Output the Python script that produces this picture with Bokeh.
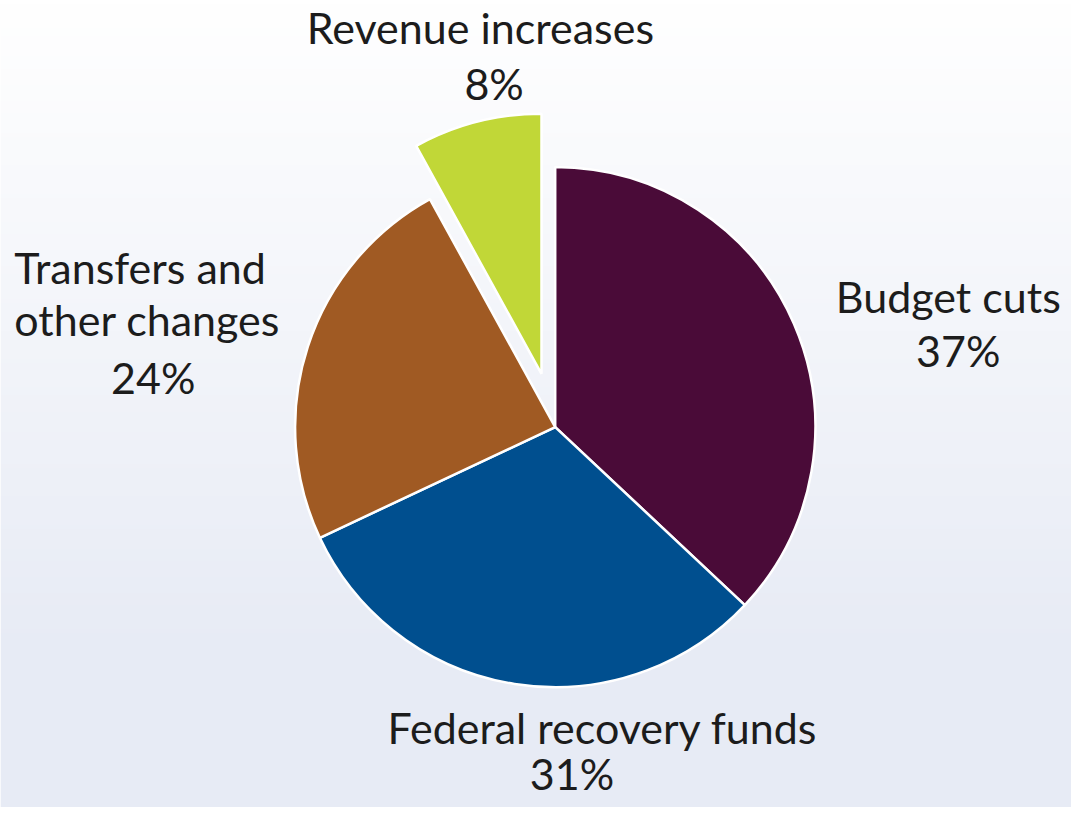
import numpy as np
from bokeh.plotting import figure
from bokeh.models import Range1d, ColumnDataSource
from bokeh.core.properties import value
from bokeh.embed import file_html
from bokeh.resources import INLINE

# ---- data ----
categories = ["Budget cuts", "Federal recovery funds", "Transfers and other changes", "Revenue increases"]
shares = [37, 31, 24, 8]
colors = ["#4a0b38", "#004f8f", "#a05a23", "#c1d737"]
explode = [0, 0, 0, 56]

# ---- layout (reference-pixel frame 1087x823, y measured from top) ----
W, H = 1071, 807
RW, RH = 1087, 823
cx, cy_top, R = 563, 435, 264
name_lines = [["Budget cuts"], ["Federal recovery funds"], ["Transfers and", "other changes"], ["Revenue increases"]]
name_pos = [[(962, "center", 317)], [(611, "center", 756)],
            [(14, "left", 287), (14, "left", 340)], [(487, "center", 43)]]
pct_pos = [(972, 372), (580, 803), (155, 399), (501, 100)]
BASE_SHIFT = 15  # compensate renderer baseline offset

p = figure(width=W, height=H, output_backend="svg", toolbar_location=None,
           x_range=Range1d(0, RW), y_range=Range1d(0, RH), min_border=0)
p.axis.visible = False
p.grid.visible = False
p.outline_line_color = None
p.background_fill_color = "white"
p.border_fill_color = "white"

# gradient background (white at top -> pale blue at bottom)
n = 200
t = np.linspace(0, 1, n)  # bottom -> top
top = np.array([255, 255, 255])
bot = np.array([231, 235, 245])
w = np.clip((1 - t) / 0.82, 0, 1)[:, None]
rgb = (top * (1 - w) + bot * w).astype(np.uint32)
img = np.empty((n, 1), dtype=np.uint32)
view = img.view(dtype=np.uint8).reshape((n, 1, 4))
view[:, 0, 0] = rgb[:, 0]
view[:, 0, 1] = rgb[:, 1]
view[:, 0, 2] = rgb[:, 2]
view[:, 0, 3] = 255
p.image_rgba(image=[img], x=0, y=0, dw=RW, dh=RH)

total = float(sum(shares))
cum = np.cumsum([0] + shares)
start = np.pi / 2 - 2 * np.pi * cum[:-1] / total
end = np.pi / 2 - 2 * np.pi * cum[1:] / total
mid = (start + end) / 2
cy = RH - cy_top
xs = cx + np.array(explode) * np.cos(mid)
ys = cy + np.array(explode) * np.sin(mid)

src = ColumnDataSource(dict(x=xs, y=ys, start=start, end=end, color=colors, cat=categories))
p.wedge(x="x", y="y", radius=R, start_angle="start", end_angle="end",
        direction="clock", fill_color="color", line_color="white", line_width=2.5,
        source=src)

font = value("Lato")
fs = "43px"
tc = "#1c1c1c"
for lines, poss, sh, (px, py) in zip(name_lines, name_pos, shares, pct_pos):
    for ln, (lx, al, by) in zip(lines, poss):
        p.text(x=[lx], y=[RH - by + BASE_SHIFT], text=[ln], text_align=al,
               text_baseline="alphabetic", text_font=font, text_font_size=fs, text_color=tc)
    p.text(x=[px], y=[RH - py + BASE_SHIFT], text=[f"{sh}%"], text_align="center",
           text_baseline="alphabetic", text_font=font, text_font_size=fs, text_color=tc)

open("out.html", "w").write(file_html(p, INLINE))
